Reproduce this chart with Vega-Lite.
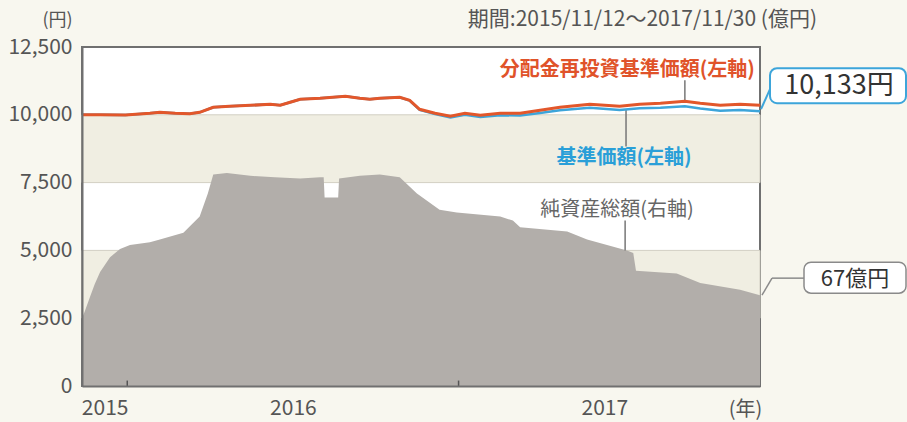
{
  "$schema": "https://vega.github.io/schema/vega-lite/v6.json",
  "width": 678,
  "height": 339,
  "autosize": {"type": "none"},
  "padding": {"left": 82, "top": 47, "right": 147, "bottom": 36},
  "background": "#f8f7ef",
  "config": {
    "font": "Noto Sans CJK JP",
    "view": {"fill": "#ffffff", "stroke": "#707070", "strokeWidth": 2}
  },
  "datasets": {
    "nav": [
      {"date": "2015-11-12", "nav": 10000, "navR": 10000},
      {"date": "2015-12-02", "nav": 10000, "navR": 10000},
      {"date": "2015-12-30", "nav": 9990, "navR": 9990},
      {"date": "2016-01-26", "nav": 10055, "navR": 10055},
      {"date": "2016-02-06", "nav": 10090, "navR": 10090},
      {"date": "2016-02-23", "nav": 10055, "navR": 10055},
      {"date": "2016-03-10", "nav": 10040, "navR": 10040},
      {"date": "2016-03-21", "nav": 10090, "navR": 10090},
      {"date": "2016-04-05", "nav": 10277, "navR": 10277},
      {"date": "2016-04-23", "nav": 10314, "navR": 10314},
      {"date": "2016-05-16", "nav": 10350, "navR": 10350},
      {"date": "2016-06-07", "nav": 10387, "navR": 10387},
      {"date": "2016-06-18", "nav": 10350, "navR": 10350},
      {"date": "2016-06-29", "nav": 10461, "navR": 10461},
      {"date": "2016-07-10", "nav": 10572, "navR": 10572},
      {"date": "2016-08-01", "nav": 10609, "navR": 10609},
      {"date": "2016-08-29", "nav": 10683, "navR": 10683},
      {"date": "2016-09-14", "nav": 10609, "navR": 10609},
      {"date": "2016-09-25", "nav": 10572, "navR": 10572},
      {"date": "2016-10-06", "nav": 10609, "navR": 10609},
      {"date": "2016-10-28", "nav": 10646, "navR": 10646},
      {"date": "2016-11-08", "nav": 10525, "navR": 10535},
      {"date": "2016-11-19", "nav": 10183, "navR": 10203},
      {"date": "2016-12-06", "nav": 10025, "navR": 10055},
      {"date": "2016-12-23", "nav": 9905, "navR": 9945},
      {"date": "2017-01-08", "nav": 10005, "navR": 10055},
      {"date": "2017-01-25", "nav": 9922, "navR": 9982},
      {"date": "2017-02-16", "nav": 9985, "navR": 10055},
      {"date": "2017-03-10", "nav": 9970, "navR": 10055},
      {"date": "2017-04-01", "nav": 10066, "navR": 10166},
      {"date": "2017-04-23", "nav": 10167, "navR": 10277},
      {"date": "2017-05-26", "nav": 10262, "navR": 10387},
      {"date": "2017-06-28", "nav": 10174, "navR": 10314},
      {"date": "2017-07-20", "nav": 10237, "navR": 10387},
      {"date": "2017-08-12", "nav": 10259, "navR": 10424},
      {"date": "2017-09-08", "nav": 10318, "navR": 10498},
      {"date": "2017-09-25", "nav": 10234, "navR": 10424},
      {"date": "2017-10-17", "nav": 10150, "navR": 10350},
      {"date": "2017-11-08", "nav": 10177, "navR": 10387},
      {"date": "2017-11-30", "nav": 10133, "navR": 10350}
    ],
    "aum": [
      {"date": "2015-11-12", "aum": 50},
      {"date": "2015-11-15", "aum": 55},
      {"date": "2015-11-21", "aum": 66},
      {"date": "2015-11-26", "aum": 75},
      {"date": "2015-12-02", "aum": 84},
      {"date": "2015-12-13", "aum": 95},
      {"date": "2015-12-24", "aum": 101},
      {"date": "2016-01-04", "aum": 104},
      {"date": "2016-01-26", "aum": 106},
      {"date": "2016-02-06", "aum": 108},
      {"date": "2016-03-03", "aum": 113},
      {"date": "2016-03-21", "aum": 125},
      {"date": "2016-03-30", "aum": 142},
      {"date": "2016-04-05", "aum": 156},
      {"date": "2016-04-20", "aum": 157},
      {"date": "2016-05-16", "aum": 155},
      {"date": "2016-06-12", "aum": 154},
      {"date": "2016-07-10", "aum": 153},
      {"date": "2016-08-01", "aum": 154},
      {"date": "2016-08-05", "aum": 154},
      {"date": "2016-08-06", "aum": 139},
      {"date": "2016-08-21", "aum": 139},
      {"date": "2016-08-22", "aum": 153},
      {"date": "2016-09-14", "aum": 155},
      {"date": "2016-10-06", "aum": 156},
      {"date": "2016-10-28", "aum": 154},
      {"date": "2016-11-16", "aum": 142},
      {"date": "2016-12-11", "aum": 130},
      {"date": "2016-12-30", "aum": 128},
      {"date": "2017-02-16", "aum": 125},
      {"date": "2017-03-02", "aum": 122},
      {"date": "2017-03-10", "aum": 117},
      {"date": "2017-05-01", "aum": 114},
      {"date": "2017-05-23", "aum": 108},
      {"date": "2017-07-06", "aum": 100},
      {"date": "2017-07-13", "aum": 98},
      {"date": "2017-07-16", "aum": 85},
      {"date": "2017-08-30", "aum": 83},
      {"date": "2017-09-25", "aum": 76},
      {"date": "2017-11-08", "aum": 71},
      {"date": "2017-11-30", "aum": 67}
    ],
    "bands": [
      {"lo": 7500, "hi": 10000},
      {"lo": 2500, "hi": 5000}
    ],
    "yearTicks": [
      {"date": "2016-01-01"},
      {"date": "2017-01-01"}
    ]
  },
  "encoding": {
    "x": {
      "field": "date",
      "type": "temporal",
      "scale": {"domain": [{"year": 2015, "month": 11, "date": 12}, {"year": 2017, "month": 11, "date": 30}]},
      "axis": {
        "values": [{"year": 2015, "month": 12, "date": 7}, {"year": 2016, "month": 7, "date": 2}, {"year": 2017, "month": 6, "date": 11}],
        "labelExpr": "timeFormat(datum.value, '%Y')",
        "ticks": false,
        "tickSize": 0,
        "grid": false,
        "domain": true,
        "domainColor": "#707070",
        "domainWidth": 2,
        "labelFontSize": 21,
        "labelColor": "#555555",
        "labelPadding": 11,
        "labelFlush": false,
        "labelOverlap": false,
        "title": "(年)",
        "titleX": 663,
        "titleY": 29,
        "titleAlign": "center",
        "titleBaseline": "alphabetic",
        "titleFontSize": 20,
        "titleFontWeight": "normal",
        "titleColor": "#555555",
        "zindex": 1
      }
    }
  },
  "layer": [
    {
      "layer": [
        {
          "data": {"name": "bands"},
          "mark": {"type": "rect", "fill": "#f0eee2", "stroke": "#d2cfc3", "strokeWidth": 1},
          "encoding": {
            "x": {"value": 0},
            "x2": {"value": "width"},
            "y": {
              "field": "lo",
              "type": "quantitative",
              "scale": {"domain": [0, 12500], "nice": false},
              "axis": {
                "orient": "left",
                "values": [0, 2500, 5000, 7500, 10000, 12500],
                "format": ",d",
                "ticks": false,
                "tickSize": 0,
                "grid": false,
                "domain": true,
                "domainColor": "#707070",
                "domainWidth": 2,
                "labelFontSize": 21,
                "labelColor": "#555555",
                "labelPadding": 10,
                "labelFlush": false,
                "title": "(円)",
                "titleAngle": 0,
                "titleX": -25,
                "titleY": -27,
                "titleAlign": "center",
                "titleBaseline": "middle",
                "titleFontSize": 18,
                "titleFontWeight": "normal",
                "titleColor": "#555555",
                "zindex": 1
              }
            },
            "y2": {"field": "hi"}
          }
        }
      ]
    },
    {
      "layer": [
        {
          "data": {"name": "aum"},
          "mark": {"type": "area", "color": "#b2aeaa"},
          "encoding": {
            "y": {
              "field": "aum",
              "type": "quantitative",
              "scale": {"domain": [0, 250], "nice": false},
              "axis": {
                "orient": "right",
                "values": [0, 50, 100, 150, 200, 250],
                "ticks": false,
                "tickSize": 0,
                "grid": false,
                "domain": true,
                "domainColor": "#707070",
                "domainWidth": 2,
                "labelFontSize": 21,
                "labelColor": "#555555",
                "labelPadding": 4,
                "labelFlush": false,
                "title": null,
                "zindex": 1
              }
            }
          }
        },
        {
          "data": {"values": [{"date": "2017-07-04", "aum": 100, "label": "純資産総額(右軸)"}]},
          "mark": {"type": "rule", "color": "#777777", "strokeWidth": 1.5, "y2Offset": -30},
          "encoding": {
            "y": {"field": "aum", "type": "quantitative", "scale": {"domain": [0, 250], "nice": false}, "axis": null},
            "y2": {"field": "aum"}
          }
        },
        {
          "data": {"values": [{"date": "2017-07-04", "aum": 100, "label": "純資産総額(右軸)"}]},
          "mark": {"type": "text", "color": "#666666", "fontSize": 20, "align": "center", "baseline": "middle", "dx": -8, "dy": -40},
          "encoding": {
            "y": {"field": "aum", "type": "quantitative", "scale": {"domain": [0, 250], "nice": false}, "axis": null},
            "text": {"field": "label"}
          }
        },
        {
          "data": {"values": [{"date": "2017-11-30", "aum": 67, "label": "67億円"}]},
          "mark": {"type": "rule", "color": "#8a8a8a", "strokeWidth": 1.5, "xOffset": 2, "x2Offset": 12, "yOffset": 0, "y2Offset": -17},
          "encoding": {
            "y": {"field": "aum", "type": "quantitative", "scale": {"domain": [0, 250], "nice": false}, "axis": null},
            "y2": {"field": "aum"},
            "x2": {"field": "date"}
          }
        },
        {
          "data": {"values": [{"date": "2017-11-30", "aum": 67, "label": "67億円"}]},
          "mark": {"type": "rule", "color": "#8a8a8a", "strokeWidth": 1.5, "xOffset": 12, "x2Offset": 44, "yOffset": -17, "y2Offset": -17},
          "encoding": {
            "y": {"field": "aum", "type": "quantitative", "scale": {"domain": [0, 250], "nice": false}, "axis": null},
            "y2": {"field": "aum"},
            "x2": {"field": "date"}
          }
        },
        {
          "data": {"values": [{"date": "2017-11-30", "aum": 67, "label": "67億円"}]},
          "mark": {"type": "rect", "fill": "#ffffff", "stroke": "#8a8a8a", "strokeWidth": 1.5, "cornerRadius": 7, "xOffset": 44, "x2Offset": 146, "yOffset": -33, "y2Offset": -2},
          "encoding": {
            "y": {"field": "aum", "type": "quantitative", "scale": {"domain": [0, 250], "nice": false}, "axis": null},
            "y2": {"field": "aum"},
            "x2": {"field": "date"}
          }
        },
        {
          "data": {"values": [{"date": "2017-11-30", "aum": 67, "label": "67億円"}]},
          "mark": {"type": "text", "color": "#333333", "fontSize": 22, "align": "center", "baseline": "middle", "dx": 95, "dy": -16},
          "encoding": {
            "y": {"field": "aum", "type": "quantitative", "scale": {"domain": [0, 250], "nice": false}, "axis": null},
            "text": {"field": "label"}
          }
        }
      ]
    },
    {
      "layer": [
        {
          "data": {"name": "yearTicks"},
          "mark": {"type": "rule", "color": "#555555", "strokeWidth": 1.5},
          "encoding": {
            "y": {"datum": 0, "type": "quantitative", "scale": {"domain": [0, 12500], "nice": false}, "axis": null},
            "y2": {"datum": 200}
          }
        },
        {
          "data": {"values": [{"date": "2017-11-30", "value": 12500, "label": "期間:2015/11/12～2017/11/30 (億円)"}]},
          "mark": {"type": "text", "color": "#555555", "fontSize": 21, "align": "right", "baseline": "middle", "dx": 57, "dy": -27},
          "encoding": {
            "y": {"field": "value", "type": "quantitative", "scale": {"domain": [0, 12500], "nice": false}, "axis": null},
            "text": {"field": "label"}
          }
        },
        {
          "data": {"values": [{"date": "2017-09-08", "value": 10498, "label": "分配金再投資基準価額(左軸)"}]},
          "mark": {"type": "rule", "color": "#777777", "strokeWidth": 1.5, "y2Offset": -21},
          "encoding": {
            "y": {"field": "value", "type": "quantitative", "scale": {"domain": [0, 12500], "nice": false}, "axis": null},
            "y2": {"field": "value"}
          }
        },
        {
          "data": {"values": [{"date": "2017-07-05", "value": 10194, "label": "基準価額(左軸)"}]},
          "mark": {"type": "rule", "color": "#777777", "strokeWidth": 1.5, "y2Offset": 37},
          "encoding": {
            "y": {"field": "value", "type": "quantitative", "scale": {"domain": [0, 12500], "nice": false}, "axis": null},
            "y2": {"field": "value"}
          }
        },
        {
          "data": {"name": "nav"},
          "mark": {"type": "line", "color": "#3da5da", "strokeWidth": 2.5},
          "encoding": {
            "y": {"field": "nav", "type": "quantitative", "scale": {"domain": [0, 12500], "nice": false}, "axis": null}
          }
        },
        {
          "data": {"name": "nav"},
          "mark": {"type": "line", "color": "#e2572b", "strokeWidth": 3},
          "encoding": {
            "y": {"field": "navR", "type": "quantitative", "scale": {"domain": [0, 12500], "nice": false}, "axis": null}
          }
        },
        {
          "data": {"values": [{"date": "2017-09-08", "value": 10498, "label": "分配金再投資基準価額(左軸)"}]},
          "mark": {"type": "text", "color": "#e0532a", "fontSize": 20, "fontWeight": "bold", "align": "right", "baseline": "middle", "dx": 70, "dy": -31},
          "encoding": {
            "y": {"field": "value", "type": "quantitative", "scale": {"domain": [0, 12500], "nice": false}, "axis": null},
            "text": {"field": "label"}
          }
        },
        {
          "data": {"values": [{"date": "2017-07-05", "value": 10194, "label": "基準価額(左軸)"}]},
          "mark": {"type": "text", "color": "#2a9fd8", "fontSize": 20, "fontWeight": "bold", "align": "center", "baseline": "middle", "dx": -2, "dy": 48},
          "encoding": {
            "y": {"field": "value", "type": "quantitative", "scale": {"domain": [0, 12500], "nice": false}, "axis": null},
            "text": {"field": "label"}
          }
        },
        {
          "data": {"values": [{"date": "2017-11-30", "value": 10133, "label": "10,133円"}]},
          "mark": {"type": "rule", "color": "#3da5da", "strokeWidth": 2, "xOffset": 1, "x2Offset": 10, "yOffset": -2, "y2Offset": -22},
          "encoding": {
            "y": {"field": "value", "type": "quantitative", "scale": {"domain": [0, 12500], "nice": false}, "axis": null},
            "y2": {"field": "value"},
            "x2": {"field": "date"}
          }
        },
        {
          "data": {"values": [{"date": "2017-11-30", "value": 10133, "label": "10,133円"}]},
          "mark": {"type": "rect", "fill": "#ffffff", "stroke": "#3da5da", "strokeWidth": 2, "cornerRadius": 7, "xOffset": 10, "x2Offset": 146, "yOffset": -43, "y2Offset": -8},
          "encoding": {
            "y": {"field": "value", "type": "quantitative", "scale": {"domain": [0, 12500], "nice": false}, "axis": null},
            "y2": {"field": "value"},
            "x2": {"field": "date"}
          }
        },
        {
          "data": {"values": [{"date": "2017-11-30", "value": 10133, "label": "10,133円"}]},
          "mark": {"type": "text", "color": "#333333", "fontSize": 27, "align": "center", "baseline": "middle", "dx": 79, "dy": -25},
          "encoding": {
            "y": {"field": "value", "type": "quantitative", "scale": {"domain": [0, 12500], "nice": false}, "axis": null},
            "text": {"field": "label"}
          }
        }
      ]
    }
  ],
  "resolve": {"scale": {"y": "independent"}}
}
